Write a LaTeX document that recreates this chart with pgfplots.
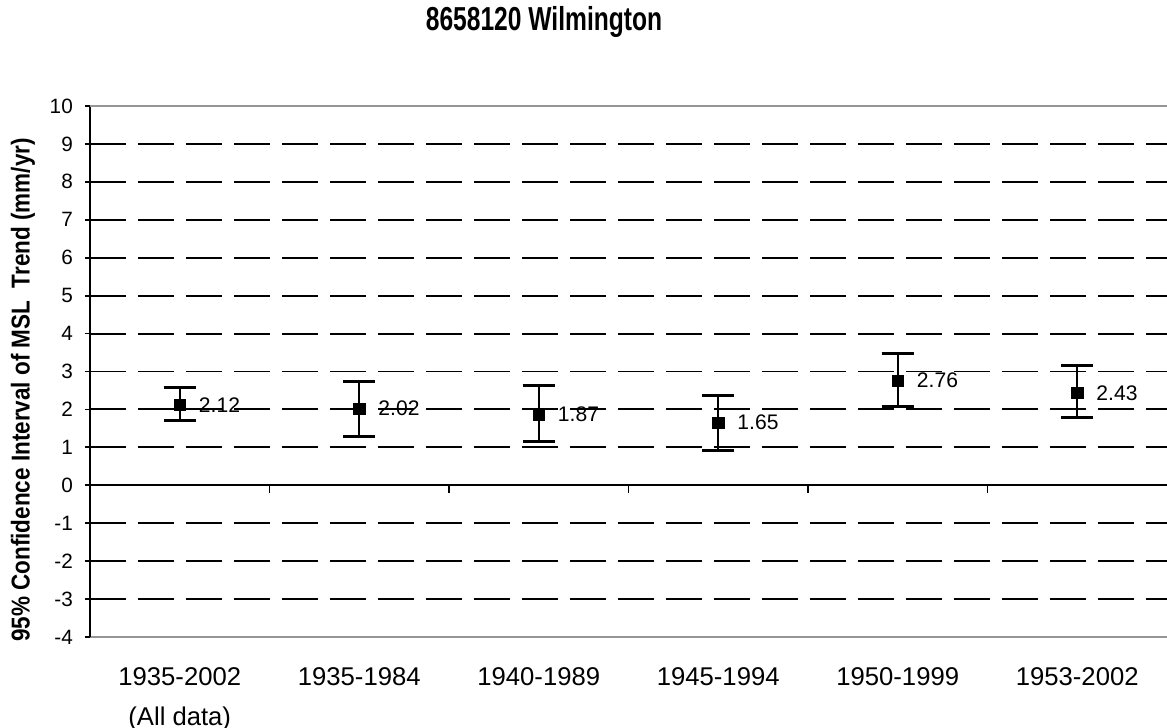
\documentclass[border=0pt]{standalone}
\usepackage{fontspec}
\setmainfont{Liberation Sans}
\usepackage{pgfplots}
\usepackage{pgfplotstable}
\pgfplotsset{compat=1.18}
\definecolor{frame}{RGB}{150,150,150}

% trend, plus and minus of the 95% interval
\pgfplotstableread{
x y ep em
0 2.12 0.46 0.40
1 2.02 0.72 0.73
2 1.87 0.75 0.71
3 1.65 0.71 0.73
4 2.76 0.71 0.69
5 2.43 0.72 0.64
}\trenddata

\begin{document}
\begin{tikzpicture}
\useasboundingbox (-1.8,-1.8) rectangle (21.54,12.74);
\begin{axis}[
  scale only axis,
  width=21.54cm, height=10.62cm,
  xmin=-0.5, xmax=5.5, ymin=-4, ymax=10,
  axis lines*=left,
  x axis line style={draw=frame, line width=1pt},
  y axis line style={black, line width=1pt},
  xtick={0,...,5},
  xticklabels={{1935-2002\\(All data)},1935-1984,1940-1989,1945-1994,1950-1999,1953-2002},
  xtick style={draw=none},
  xticklabel style={align=center, font=\fontsize{14.6}{23}\selectfont, yshift=-0.38cm},
  ytick={-4,...,10},
  ytick style={black, line width=1pt},
  tick align=outside,
  major tick length=0.1cm,
  yticklabel style={font=\fontsize{11.8}{14}\selectfont, xshift=-0.12cm},
  /pgf/number format/assume math mode=true,
  extra y ticks={-3,-2,-1,1,2,3,4,5,6,7,8,9},
  extra y tick labels={},
  extra y tick style={grid=major, major tick length=0pt,
    major grid style={black, line width=1.1pt, dash pattern=on 0.72cm off 0.24cm}},
  clip=false,
]
\addplot[frame, line width=1pt] coordinates {(-0.5,10) (5.5,10)};
\addplot[black, line width=0.9pt] coordinates {(-0.5,0) (5.5,0)};
\addplot[ycomb, black, line width=0.9pt, mark=none] coordinates {(0.5,-0.21) (1.5,-0.21) (2.5,-0.21) (3.5,-0.21) (4.5,-0.21)};
\addplot[only marks, mark=square*, mark size=3.2pt, black,
  point meta=y, nodes near coords,
  nodes near coords style={anchor=west, xshift=0.26cm, font=\fontsize{12}{14}\selectfont, black},
  error bars/.cd, y dir=both, y explicit,
  error bar style={line width=1.2pt},
  error mark options={rotate=90, line width=1.7pt, mark size=0.32cm}]
  table[x=x, y=y, y error plus=ep, y error minus=em] {\trenddata};
\end{axis}
\node[font=\fontsize{14}{16}\selectfont\bfseries] at (9.08,12.3) {\scalebox{1}[1.35]{8658120 Wilmington}};
\node[rotate=90, font=\fontsize{12.8}{15}\selectfont\bfseries] at (-1.34,4.94) {\scalebox{1}[1.15]{95\% Confidence Interval of MSL\ \ Trend (mm/yr)}};
\end{tikzpicture}
\end{document}
